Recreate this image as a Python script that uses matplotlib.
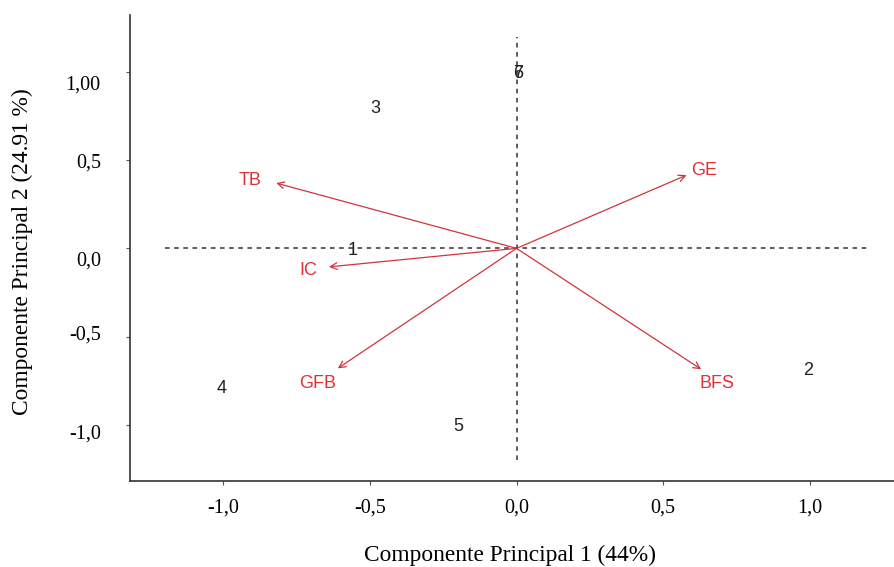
import matplotlib.pyplot as plt
from matplotlib.transforms import ScaledTranslation

# variable vectors (loadings)
var_names = ["TB", "GE", "IC", "GFB", "BFS"]
var_x = [-0.82, 0.58, -0.64, -0.61, 0.63]
var_y = [0.37, 0.415, -0.105, -0.68, -0.685]
# label positions for variables
lab_x = [-0.91, 0.64, -0.71, -0.68, 0.685]
lab_y = [0.385, 0.44, -0.125, -0.765, -0.765]

# observations (scores)
obs_names = ["1", "2", "3", "4", "5", "6", "7"]
obs_x = [-0.56, 0.995, -0.483, -1.005, -0.20, 0.005, 0.005]
obs_y = [-0.01, -0.69, 0.79, -0.795, -1.01, 0.99, 0.99]

xticks = [-1.0, -0.5, 0.0, 0.5, 1.0]
xticklabels = ["-1,0", "-0,5", "0,0", "0,5", "1,0"]
yticks = [-1.0, -0.5, 0.0, 0.5, 1.0]
yticklabels = ["-1,0", "-0,5", "0,0", "0,5", "1,00"]
# the y tick labels in the original sit slightly off their ticks (px, down)
ylabel_shift = [7, -4, 10, 0, 11]

red = "#e03038"
serif = "Liberation Serif"

fig = plt.figure(figsize=(8.94, 5.67), dpi=100)
ax = fig.add_axes([0.1454, 0.1517, 0.8546, 0.8218])
ax.set_xlim(-1.319, 1.288)
ax.set_ylim(-1.318, 1.322)

ax.plot([-1.2, 1.2], [0, 0], ls=(0, (3, 3)), color="#333333", lw=1.1)
ax.plot([0, 0], [-1.2, 1.2], ls=(0, (3, 3)), color="#333333", lw=1.1)

for i in range(len(var_names)):
    ax.annotate("", xy=(var_x[i], var_y[i]), xytext=(0, 0),
                arrowprops=dict(arrowstyle="->", color="#d0343c", lw=0.9,
                                shrinkA=0, shrinkB=0, mutation_scale=12))
    ax.text(lab_x[i], lab_y[i], var_names[i], color=red, fontsize=13,
            family="Liberation Sans", ha="center", va="center")

for i in range(len(obs_names)):
    ax.text(obs_x[i], obs_y[i], obs_names[i], color="#222222", fontsize=13,
            family="Liberation Sans", ha="center", va="center")

ax.spines["top"].set_visible(False)
ax.spines["right"].set_visible(False)
for s in ["left", "bottom"]:
    ax.spines[s].set_color("#333333")
    ax.spines[s].set_linewidth(1.2)

ax.set_xticks(xticks)
ax.set_xticklabels(xticklabels, family=serif, fontsize=14.5)
ax.set_yticks(yticks)
ax.set_yticklabels(yticklabels, family=serif, fontsize=14.5)
ax.tick_params(direction="out", length=3, width=0.8, color="#555555")
ax.tick_params(axis="x", pad=10)
ax.tick_params(axis="y", pad=18)

ticks = ax.yaxis.get_major_ticks(len(yticks))
for t, d in zip(ticks, ylabel_shift):
    t.label1.set_transform(t.label1.get_transform()
                           + ScaledTranslation(0, -d / 100, fig.dpi_scale_trans))

fig.text(510 / 894, 1 - 555 / 567, "Componente Principal 1 (44%)",
         family=serif, fontsize=16.8, ha="center", va="center")
fig.text(22 / 894, 1 - 252 / 567, "Componente Principal 2 (24.91 %)",
         family=serif, fontsize=16.8, ha="center", va="center", rotation=90)

fig.savefig("out.png", dpi=100)
